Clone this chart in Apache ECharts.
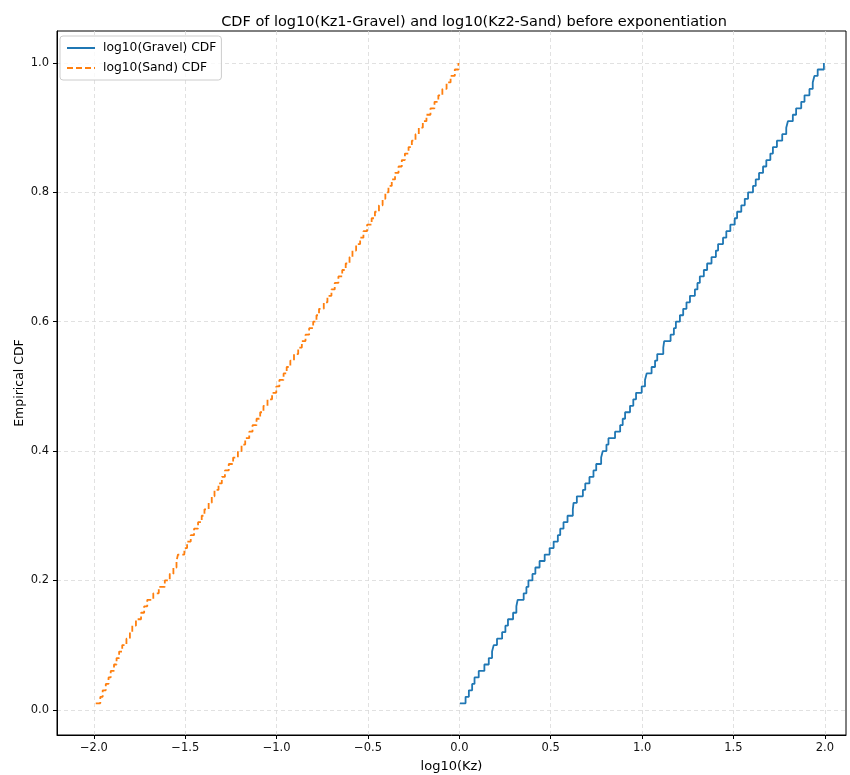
<!DOCTYPE html>
<html>
<head>
<meta charset="utf-8">
<script src="https://cdn.jsdelivr.net/npm/echarts@6/dist/echarts.min.js"></script>
<style>html,body{margin:0;padding:0;background:#fff}#c{width:850px;height:775px}</style>
</head>
<body>
<div id="c"></div>
<script>
// Sorted log10(Kz) samples (gravel: 0..2, sand: -2..0)
const gravelLog = [
  0.003, 0.034, 0.052, 0.070, 0.083, 0.106, 0.137, 0.161, 0.179, 0.188,
  0.206, 0.234, 0.252, 0.266, 0.294, 0.312, 0.319, 0.352, 0.367, 0.378,
  0.400, 0.416, 0.439, 0.467, 0.494, 0.516, 0.539, 0.552, 0.570, 0.592,
  0.621, 0.625, 0.643, 0.676, 0.689, 0.712, 0.734, 0.749, 0.776, 0.785,
  0.805, 0.816, 0.852, 0.880, 0.894, 0.907, 0.934, 0.952, 0.967, 0.998,
  1.016, 1.025, 1.052, 1.071, 1.083, 1.116, 1.121, 1.156, 1.174, 1.185,
  1.207, 1.225, 1.243, 1.262, 1.289, 1.303, 1.316, 1.338, 1.356, 1.380,
  1.404, 1.416, 1.443, 1.461, 1.483, 1.507, 1.520, 1.543, 1.562, 1.580,
  1.607, 1.622, 1.640, 1.662, 1.680, 1.702, 1.716, 1.738, 1.767, 1.789,
  1.798, 1.825, 1.843, 1.871, 1.889, 1.916, 1.934, 1.943, 1.961, 1.995
];
const sandLog = [
  -1.990, -1.965, -1.952, -1.935, -1.920, -1.908, -1.890, -1.876, -1.862, -1.845,
  -1.822, -1.803, -1.790, -1.770, -1.742, -1.725, -1.708, -1.675, -1.645, -1.612,
  -1.585, -1.565, -1.548, -1.540, -1.505, -1.490, -1.470, -1.452, -1.430, -1.410,
  -1.395, -1.372, -1.355, -1.340, -1.318, -1.300, -1.283, -1.262, -1.238, -1.212,
  -1.192, -1.172, -1.150, -1.132, -1.110, -1.090, -1.072, -1.050, -1.025, -1.002,
  -0.985, -0.962, -0.945, -0.925, -0.905, -0.882, -0.862, -0.842, -0.822, -0.800,
  -0.782, -0.768, -0.742, -0.722, -0.700, -0.682, -0.662, -0.641, -0.622, -0.601,
  -0.585, -0.565, -0.543, -0.525, -0.505, -0.480, -0.462, -0.440, -0.420, -0.405,
  -0.388, -0.370, -0.352, -0.333, -0.315, -0.298, -0.278, -0.260, -0.240, -0.222,
  -0.200, -0.180, -0.158, -0.136, -0.115, -0.093, -0.070, -0.048, -0.025, -0.005
];
const xTicks = [-2.0, -1.5, -1.0, -0.5, 0.0, 0.5, 1.0, 1.5, 2.0];
const yTicks = [0.0, 0.2, 0.4, 0.6, 0.8, 1.0];
const seriesNames = ['log10(Gravel) CDF', 'log10(Sand) CDF'];
const titleText = 'CDF of log10(Kz1-Gravel) and log10(Kz2-Sand) before exponentiation';

// empirical CDF: rank / n
function ecdf(arr) { return arr.map((v, i) => [v, (i + 1) / arr.length]); }

const FONT = 'DejaVu Sans';
const fmt = v => (v < 0 ? '\u2212' : '') + Math.abs(v).toFixed(1);
const gridLine = { show: true, lineStyle: { color: '#d9d9d9', type: [4, 3], width: 0.8 } };

const chart = echarts.init(document.getElementById('c'), null, { renderer: 'canvas' });
chart.setOption({
  animation: false,
  backgroundColor: '#ffffff',
  title: {
    text: titleText, left: 469, top: 10, textAlign: 'center',
    textStyle: { fontFamily: FONT, fontSize: 14.5, fontWeight: 'normal', color: '#000' }
  },
  legend: {
    orient: 'vertical', left: 60, top: 36,
    itemWidth: 28, itemHeight: 12, itemGap: 8,
    padding: [6, 5, 6, 6],
    borderColor: '#cccccc', borderWidth: 1, borderRadius: 3,
    backgroundColor: 'rgba(255,255,255,0.8)',
    itemStyle: { color: 'transparent', borderWidth: 0, opacity: 0 },
    textStyle: { fontFamily: FONT, fontSize: 12.3, color: '#000', padding: [0, 0, 0, 3] },
    data: seriesNames
  },
  grid: {
    left: 57, right: 4, top: 31, bottom: 40, show: true,
    borderColor: '#000', borderWidth: 1, containLabel: false, outerBoundsMode: 'none'
  },
  xAxis: {
    type: 'value', min: -2.202, max: 2.116,
    name: 'log10(Kz)', nameLocation: 'middle', nameGap: 25,
    nameTextStyle: { fontFamily: FONT, fontSize: 13, color: '#000' },
    axisLine: { show: true, onZero: false, lineStyle: { color: '#000', width: 1 } },
    axisTick: { show: true, inside: false, length: 4, customValues: xTicks, lineStyle: { color: '#000' } },
    axisLabel: { customValues: xTicks, formatter: fmt, margin: 7, fontFamily: FONT, fontSize: 11.5, color: '#111' },
    splitLine: gridLine
  },
  yAxis: {
    type: 'value', min: -0.039, max: 1.0495,
    name: 'Empirical CDF', nameLocation: 'middle', nameGap: 31, nameRotate: 90,
    nameMoveOverlap: false,
    nameTextStyle: { fontFamily: FONT, fontSize: 12.5, color: '#000' },
    axisLine: { show: true, onZero: false, lineStyle: { color: '#000', width: 1 } },
    axisTick: { show: true, inside: false, length: 4, customValues: yTicks, lineStyle: { color: '#000' } },
    axisLabel: { customValues: yTicks, formatter: fmt, margin: 8, fontFamily: FONT, fontSize: 11.5, color: '#111' },
    splitLine: gridLine
  },
  series: [
    {
      name: seriesNames[0], type: 'line', step: 'end', data: ecdf(gravelLog),
      symbol: 'none', showSymbol: false, color: '#1f77b4',
      lineStyle: { color: '#1f77b4', width: 1.8 }
    },
    {
      name: seriesNames[1], type: 'line', step: 'end', data: ecdf(sandLog),
      symbol: 'none', showSymbol: false, color: '#ff7f0e',
      lineStyle: { color: '#ff7f0e', width: 1.8, type: [6, 3] }
    }
  ]
});
</script>
</body>
</html>
